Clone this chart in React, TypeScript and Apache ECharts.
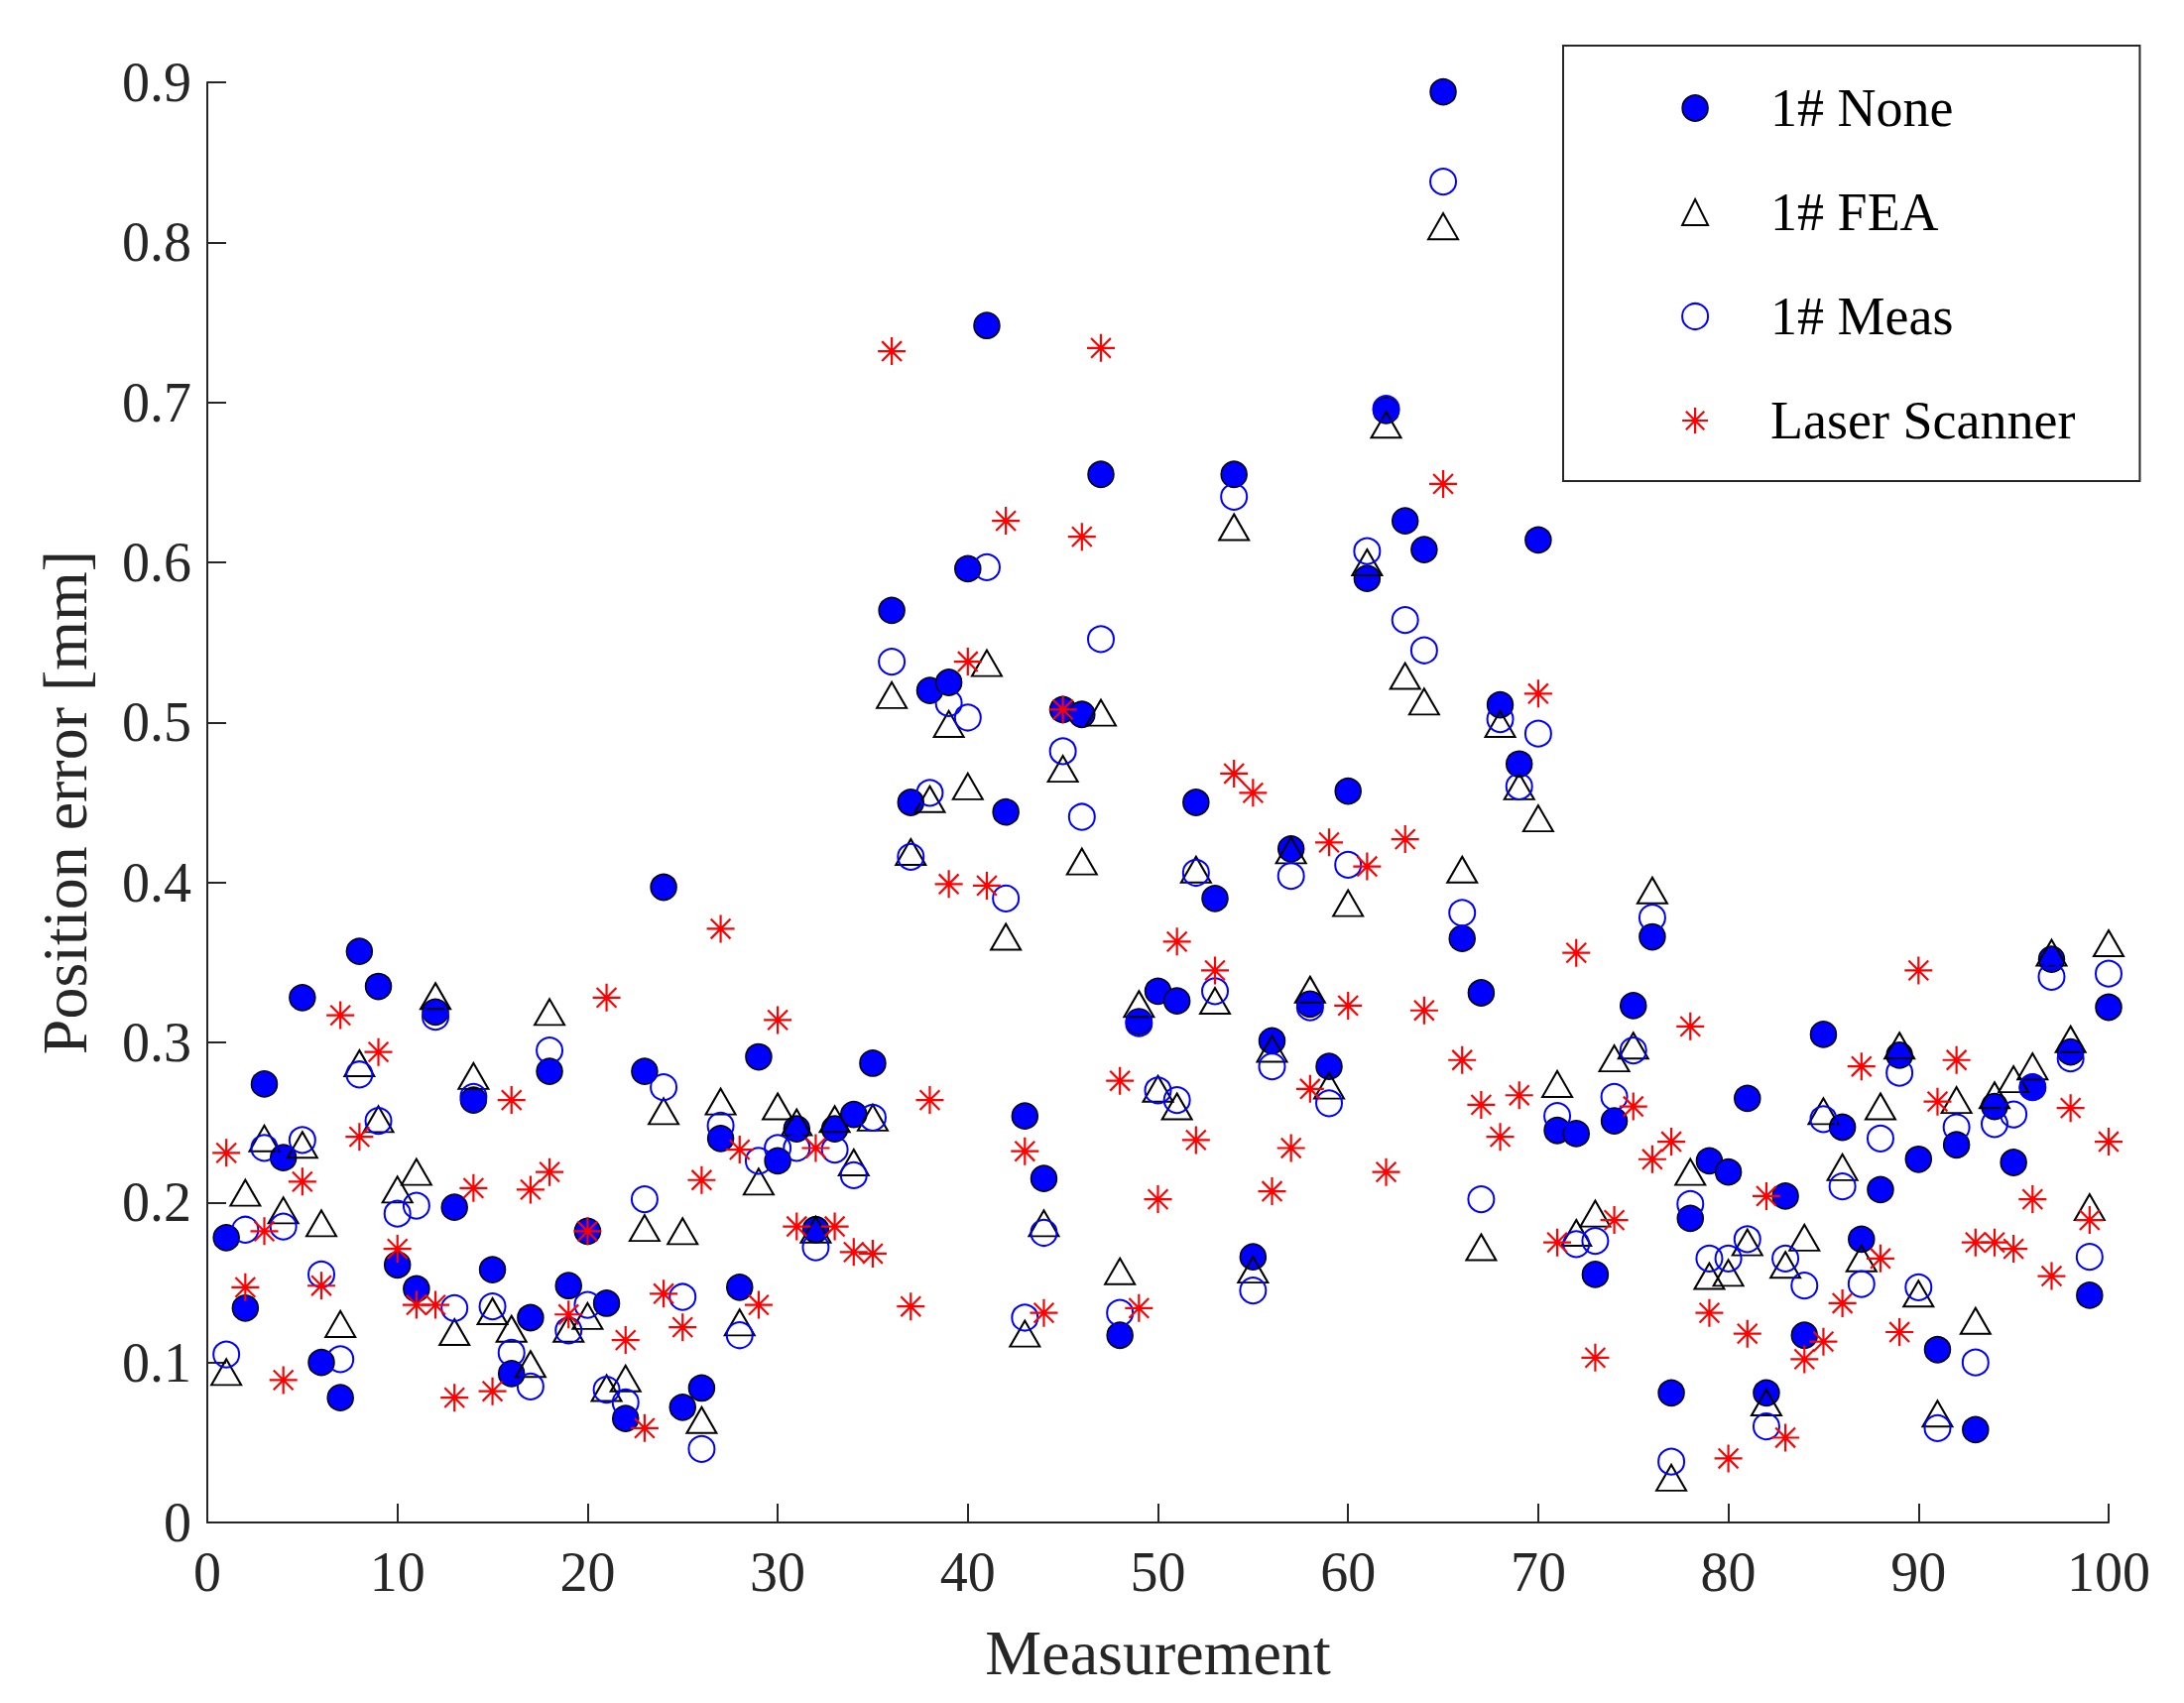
import React, { useEffect, useRef } from "react";
import * as echarts from "echarts";

const seriesNames = ["1# None", "1# FEA", "1# Meas", "Laser Scanner"];

const noneValues = [
  0.178, 0.134, 0.274, 0.228, 0.328, 0.100, 0.078, 0.357, 0.335, 0.161,
  0.146, 0.319, 0.197, 0.264, 0.158, 0.093, 0.128, 0.282, 0.148, 0.182,
  0.137, 0.065, 0.282, 0.397, 0.072, 0.084, 0.240, 0.147, 0.291, 0.226,
  0.246, 0.183, 0.246, 0.255, 0.287, 0.570, 0.450, 0.520, 0.525, 0.596,
  0.748, 0.444, 0.254, 0.215, 0.508, 0.505, 0.655, 0.117, 0.313, 0.332,
  0.326, 0.450, 0.390, 0.655, 0.166, 0.301, 0.421, 0.324, 0.285, 0.457,
  0.590, 0.695, 0.626, 0.608, 0.894, 0.365, 0.331, 0.511, 0.474, 0.614,
  0.245, 0.243, 0.155, 0.251, 0.323, 0.366, 0.081, 0.190, 0.226, 0.219,
  0.265, 0.081, 0.204, 0.117, 0.305, 0.247, 0.177, 0.208, 0.292, 0.227,
  0.108, 0.236, 0.058, 0.260, 0.225, 0.272, 0.352, 0.294, 0.142, 0.322,
];

const feaValues = [
  0.094, 0.206, 0.240, 0.195, 0.236, 0.187, 0.124, 0.287, 0.252, 0.208,
  0.219, 0.329, 0.119, 0.279, 0.132, 0.121, 0.099, 0.319, 0.121, 0.129,
  0.084, 0.090, 0.184, 0.257, 0.182, 0.064, 0.263, 0.125, 0.213, 0.260,
  0.250, 0.183, 0.252, 0.225, 0.253, 0.517, 0.419, 0.452, 0.499, 0.460,
  0.537, 0.366, 0.118, 0.187, 0.471, 0.413, 0.506, 0.157, 0.324, 0.271,
  0.260, 0.408, 0.326, 0.622, 0.158, 0.296, 0.420, 0.333, 0.273, 0.387,
  0.600, 0.686, 0.529, 0.513, 0.810, 0.408, 0.172, 0.499, 0.460, 0.440,
  0.274, 0.181, 0.193, 0.290, 0.298, 0.395, 0.028, 0.219, 0.154, 0.156,
  0.175, 0.075, 0.161, 0.178, 0.257, 0.222, 0.165, 0.260, 0.298, 0.143,
  0.068, 0.264, 0.126, 0.267, 0.277, 0.285, 0.356, 0.302, 0.197, 0.362,
];

const measValues = [
  0.105, 0.183, 0.234, 0.185, 0.239, 0.155, 0.102, 0.280, 0.251, 0.193,
  0.198, 0.316, 0.134, 0.266, 0.135, 0.106, 0.085, 0.295, 0.120, 0.136,
  0.083, 0.075, 0.202, 0.272, 0.141, 0.046, 0.248, 0.117, 0.226, 0.234,
  0.234, 0.172, 0.233, 0.217, 0.253, 0.538, 0.416, 0.456, 0.512, 0.503,
  0.597, 0.390, 0.128, 0.181, 0.482, 0.441, 0.552, 0.131, 0.312, 0.270,
  0.264, 0.406, 0.332, 0.641, 0.145, 0.285, 0.404, 0.322, 0.262, 0.411,
  0.607, 0.696, 0.564, 0.545, 0.838, 0.381, 0.202, 0.502, 0.460, 0.493,
  0.254, 0.174, 0.176, 0.266, 0.295, 0.378, 0.038, 0.199, 0.165, 0.165,
  0.177, 0.060, 0.165, 0.148, 0.252, 0.210, 0.149, 0.240, 0.281, 0.147,
  0.059, 0.247, 0.100, 0.249, 0.255, 0.272, 0.341, 0.290, 0.166, 0.343,
];

const laserValues = [
  0.231, 0.147, 0.182, 0.089, 0.213, 0.148, 0.317, 0.241, 0.294, 0.171,
  0.136, 0.136, 0.078, 0.209, 0.082, 0.264, 0.208, 0.219, 0.130, 0.182,
  0.328, 0.114, 0.059, 0.143, 0.122, 0.214, 0.371, 0.233, 0.136, 0.314,
  0.185, 0.234, 0.185, 0.169, 0.168, 0.732, 0.135, 0.264, 0.399, 0.538,
  0.398, 0.626, 0.232, 0.131, 0.508, 0.616, 0.734, 0.276, 0.134, 0.202,
  0.363, 0.239, 0.345, 0.468, 0.456, 0.207, 0.234, 0.271, 0.425, 0.323,
  0.410, 0.219, 0.427, 0.320, 0.649, 0.289, 0.261, 0.241, 0.267, 0.518,
  0.175, 0.356, 0.103, 0.189, 0.260, 0.227, 0.238, 0.310, 0.131, 0.040,
  0.118, 0.204, 0.053, 0.102, 0.113, 0.137, 0.285, 0.165, 0.119, 0.345,
  0.263, 0.289, 0.175, 0.175, 0.171, 0.202, 0.154, 0.259, 0.189, 0.238,
];

const xTicks = { min: 0, max: 100, interval: 10 };
const yTicks = { min: 0, max: 0.9, interval: 0.1 };

const ASTERISK =
  "path://M10,0 L10,20 M0,10 L20,10 M2.93,2.93 L17.07,17.07 M2.93,17.07 L17.07,2.93";

const FONT = "'Liberation Serif', 'Times New Roman', serif";
const AXIS_COLOR = "#262626";

const toPoints = (vals: number[]) => vals.map((v, i) => [i + 1, v]);

export default function App() {
  const ref = useRef<HTMLDivElement>(null);

  useEffect(() => {
    document.body.style.margin = "0";
    const chart = echarts.init(ref.current!, null, { renderer: "svg" });

    const styles = [
      { symbol: "circle", size: 26, item: { color: "#0000ff", borderColor: "#000000", borderWidth: 1.5 } },
      { symbol: "triangle", size: [30, 26], item: { color: "rgba(0,0,0,0)", borderColor: "#000000", borderWidth: 2 } },
      { symbol: "circle", size: 26, item: { color: "rgba(0,0,0,0)", borderColor: "#0000ff", borderWidth: 2 } },
      { symbol: ASTERISK, size: 28, item: { color: "rgba(0,0,0,0)", borderColor: "#ff0000", borderWidth: 2.2 } },
    ];
    const values = [noneValues, feaValues, measValues, laserValues];

    const axisCommon = {
      axisLine: { show: true, lineStyle: { color: AXIS_COLOR, width: 2 } },
      axisTick: { show: true, inside: true, length: 19, lineStyle: { color: AXIS_COLOR, width: 2 } },
      splitLine: { show: false },
      nameTextStyle: { fontFamily: FONT, fontSize: 64, color: AXIS_COLOR },
    };

    chart.setOption({
      animation: false,
      backgroundColor: "#ffffff",
      grid: { left: 209, right: 76, top: 83, bottom: 182, containLabel: false },
      xAxis: {
        type: "value",
        ...xTicks,
        name: "Measurement",
        nameLocation: "middle",
        nameGap: 99,
        ...axisCommon,
        axisLabel: { fontFamily: FONT, fontSize: 56, color: AXIS_COLOR, margin: 22 },
      },
      yAxis: {
        type: "value",
        ...yTicks,
        name: "Position error [mm]",
        nameLocation: "middle",
        nameGap: 112,
        ...axisCommon,
        axisLabel: { fontFamily: FONT, fontSize: 56, color: AXIS_COLOR, margin: 16 },
      },
      legend: {
        orient: "vertical",
        left: 1576,
        top: 46,
        padding: [33, 65, 31, 119],
        itemWidth: 26,
        itemHeight: 26,
        itemGap: 45,
        borderColor: AXIS_COLOR,
        borderWidth: 2,
        backgroundColor: "#ffffff",
        textStyle: {
          fontFamily: FONT,
          fontSize: 54,
          color: "#000000",
          lineHeight: 60,
          padding: [0, 0, 0, 58],
        },
        data: seriesNames.map((name, i) => ({
          name,
          icon: styles[i].symbol,
          itemStyle: styles[i].item,
        })),
      },
      series: seriesNames.map((name, i) => ({
        name,
        type: "scatter",
        data: toPoints(values[i]),
        symbol: styles[i].symbol,
        symbolSize: styles[i].size,
        itemStyle: { ...styles[i].item, opacity: 1 },
        emphasis: { disabled: true },
        z: 2 + i,
      })),
    });

    return () => chart.dispose();
  }, []);

  return <div ref={ref} style={{ width: 2202, height: 1717 }} />;
}
